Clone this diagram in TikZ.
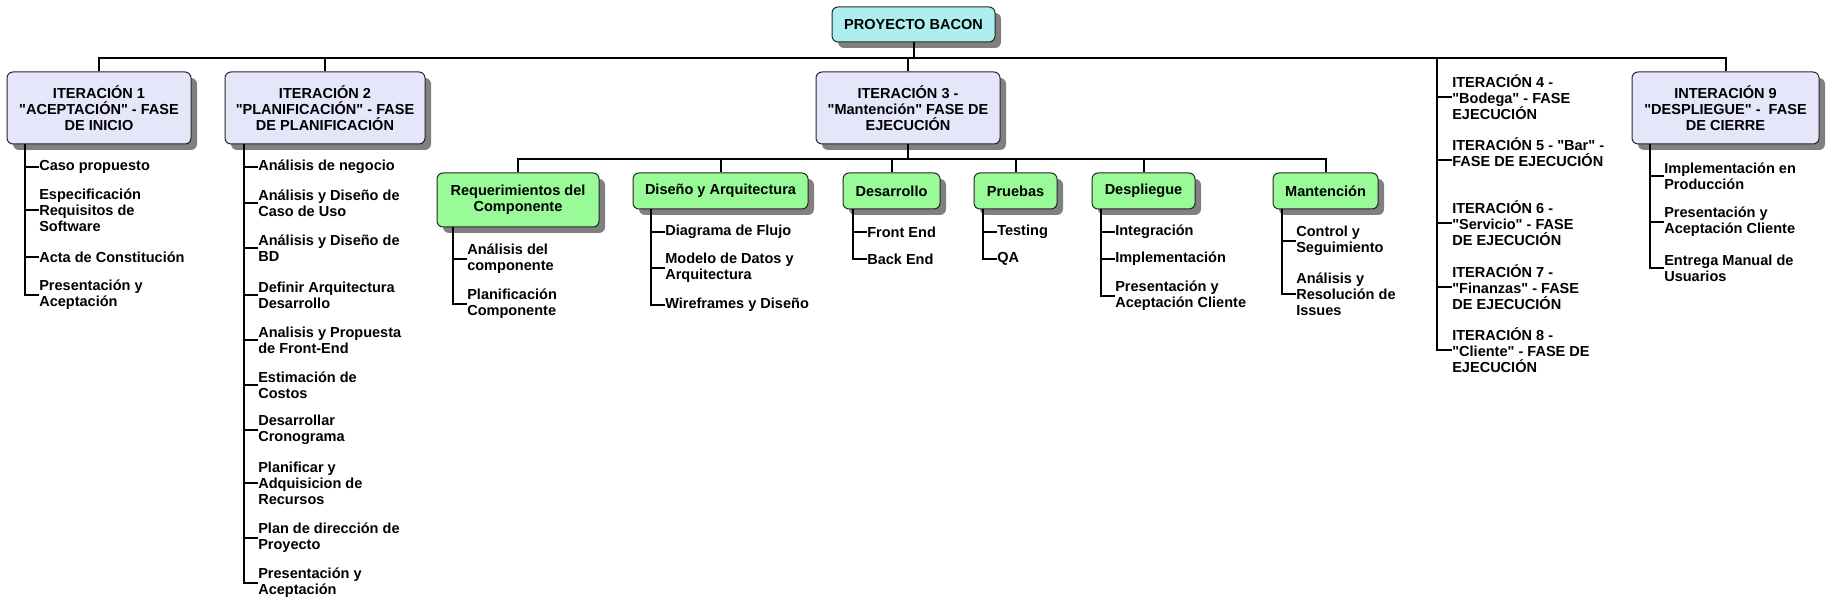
\documentclass[tikz,border=0pt]{standalone}
\usepackage{fontspec}
\setmainfont{Liberation Sans}[Ligatures=TeXOff]
\usepackage{xcolor}
\usepackage{tikz}
\usetikzlibrary{shapes, calc, shadows}

\definecolor{rootcol}{RGB}{175,238,238}
\definecolor{itercol}{RGB}{230,230,250}
\definecolor{compcol}{RGB}{152,251,152}

\begin{document}
\begin{tikzpicture}[
        x=0.75pt, y=-0.75pt,
        every node/.style={font=\fontsize{10.9}{12}\selectfont\bfseries},
        box/.style={rectangle, rounded corners=4.5pt, draw=black!85, line width=0.75pt, align=center, inner sep=0pt,
            general shadow={fill=gray, shadow xshift=4.5pt, shadow yshift=-4.5pt}},
        rootbox/.style={box, fill=rootcol, minimum width=122.25pt, minimum height=26.25pt},
        iter/.style={box, fill=itercol, minimum height=54pt},
        comp/.style={box, fill=compcol, minimum height=27pt},
        leaf/.style={anchor=west, align=left, inner sep=0pt},
        conn/.style={line width=1.5pt}
    ]
        \useasboundingbox (0,0) rectangle (1833,609);

        \node[rootbox] (proyecto) at (913.5,24.5) {PROYECTO BACON};

        % iteraciones
        \node[iter, minimum width=138pt] (it1) at (99,108) {ITERACIÓN 1\\"ACEPTACIÓN" - FASE\\DE INICIO};
        \node[iter, minimum width=150pt] (it2) at (325,108) {ITERACIÓN 2\\"PLANIFICACIÓN" - FASE\\DE PLANIFICACIÓN};
        \node[iter, minimum width=138pt] (it3) at (908,108) {ITERACIÓN 3 -\\"Mantención" FASE DE\\EJECUCIÓN};
        \node[iter, minimum width=140.25pt] (it9) at (1725.5,108) {INTERACIÓN 9\\"DESPLIEGUE" -\ \ FASE\\DE CIERRE};

        % componentes de la iteracion 3
        \node[comp, minimum width=121.5pt, minimum height=40.5pt] (req) at (518,200) {Requerimientos del\\Componente};
        \node[comp, minimum width=131.25pt] (dis) at (720.5,191) {Diseño y Arquitectura};
        \node[comp, minimum width=72.75pt] (des) at (891.5,191) {Desarrollo};
        \node[comp, minimum width=62.25pt] (pru) at (1015.5,191) {Pruebas};
        \node[comp, minimum width=77.25pt] (dpl) at (1143.5,191) {Despliegue};
        \node[comp, minimum width=78.75pt] (man) at (1325.5,191) {Mantención};

        % hojas iteracion 1
        \node[leaf] (a1) at (39,167) {Caso propuesto};
        \node[leaf] (a2) at (39,210) {Especificación\\Requisitos de\\Software};
        \node[leaf] (a3) at (39,257) {Acta de Constitución};
        \node[leaf] (a4) at (39,295) {Presentación y\\Aceptación};

        % hojas iteracion 2
        \node[leaf] (b1) at (258,167) {Análisis de negocio};
        \node[leaf] (b2) at (258,203) {Análisis y Diseño de\\Caso de Uso};
        \node[leaf] (b3) at (258,248) {Análisis y Diseño de\\BD};
        \node[leaf] (b4) at (258,295) {Definir Arquitectura\\Desarrollo};
        \node[leaf] (b5) at (258,340) {Analisis y Propuesta\\de Front-End};
        \node[leaf] (b6) at (258,385) {Estimación de\\Costos};
        \node[leaf] (b7) at (258,430) {Desarrollar\\Cronograma};
        \node[leaf] (b8) at (258,483) {Planificar y\\Adquisicion de\\Recursos};
        \node[leaf] (b9) at (258,538) {Plan de dirección de\\Proyecto};
        \node[leaf] (b10) at (258,583) {Presentación y\\Aceptación};

        % hojas de los componentes
        \node[leaf] (r1) at (467,259) {Análisis del\\componente};
        \node[leaf] (r2) at (467,304) {Planificación\\Componente};
        \node[leaf] (d1) at (665,232) {Diagrama de Flujo};
        \node[leaf] (d2) at (665,268) {Modelo de Datos y\\Arquitectura};
        \node[leaf] (d3) at (665,305) {Wireframes y Diseño};
        \node[leaf] (e1) at (867,232) {Front End};
        \node[leaf] (e2) at (867,259) {Back End};
        \node[leaf] (p1) at (997,232) {Testing};
        \node[leaf] (p2) at (997,259) {QA};
        \node[leaf] (l1) at (1115,232) {Integración};
        \node[leaf] (l2) at (1115,259) {Implementación};
        \node[leaf] (l3) at (1115,296) {Presentación y\\Aceptación Cliente};
        \node[leaf] (m1) at (1296,241) {Control y\\Seguimiento};
        \node[leaf] (m2) at (1296,294) {Análisis y\\Resolución de\\Issues};

        % iteraciones 4 a 8
        \node[leaf] (i4) at (1452,97) {ITERACIÓN 4 -\\"Bodega" - FASE\\EJECUCIÓN};
        \node[leaf] (i5) at (1452,160) {ITERACIÓN 5 - "Bar" -\\FASE DE EJECUCIÓN\\\mbox{}};
        \node[leaf] (i6) at (1452,223) {ITERACIÓN 6 -\\"Servicio" - FASE\\DE EJECUCIÓN};
        \node[leaf] (i7) at (1452,287) {ITERACIÓN 7 -\\"Finanzas" - FASE\\DE EJECUCIÓN};
        \node[leaf] (i8) at (1452,350) {ITERACIÓN 8 -\\"Cliente" - FASE DE\\EJECUCIÓN};

        % hojas iteracion 9
        \node[leaf] (n1) at (1664,176) {Implementación en\\Producción};
        \node[leaf] (n2) at (1664,222) {Presentación y\\Aceptación Cliente};
        \node[leaf] (n3) at (1664,268) {Entrega Manual de\\Usuarios};

        % barras del arbol
        \coordinate (bar) at (0,58);
        \coordinate (bar3) at (0,159);
        \draw[conn] (proyecto.south) -- (proyecto.south |- bar);
        \draw[conn] (it1.north) -- (it1.north |- bar) -| (it9.north);
        \draw[conn] (it2.north) -- (it2.north |- bar);
        \draw[conn] (it3.north) -- (it3.north |- bar);
        \draw[conn] (it3.south) -- (it3.south |- bar3);
        \draw[conn] (req.north) -- (req.north |- bar3) -| (man.north);
        \foreach \n in {dis, des, pru, dpl}
            \draw[conn] (\n.north) -- (\n.north |- bar3);

        % lineas de las hojas
        \coordinate (s1) at (25,0);
        \coordinate (s2) at (244,0);
        \coordinate (sr) at (453,0);
        \coordinate (sd) at (651,0);
        \coordinate (se) at (853,0);
        \coordinate (sp) at (983,0);
        \coordinate (sl) at (1101,0);
        \coordinate (sm) at (1282,0);
        \coordinate (s48) at (1437,58);
        \coordinate (s9) at (1650,0);

        \draw[conn] (it1.south -| s1) |- (a4.west);
        \foreach \l in {a1,a2,a3} \draw[conn] (s1 |- \l.west) -- (\l.west);
        \draw[conn] (it2.south -| s2) |- (b10.west);
        \foreach \l in {b1,b2,b3,b4,b5,b6,b7,b8,b9} \draw[conn] (s2 |- \l.west) -- (\l.west);
        \draw[conn] (req.south -| sr) |- (r2.west);
        \draw[conn] (sr |- r1.west) -- (r1.west);
        \draw[conn] (dis.south -| sd) |- (d3.west);
        \foreach \l in {d1,d2} \draw[conn] (sd |- \l.west) -- (\l.west);
        \draw[conn] (des.south -| se) |- (e2.west);
        \draw[conn] (se |- e1.west) -- (e1.west);
        \draw[conn] (pru.south -| sp) |- (p2.west);
        \draw[conn] (sp |- p1.west) -- (p1.west);
        \draw[conn] (dpl.south -| sl) |- (l3.west);
        \foreach \l in {l1,l2} \draw[conn] (sl |- \l.west) -- (\l.west);
        \draw[conn] (man.south -| sm) |- (m2.west);
        \draw[conn] (sm |- m1.west) -- (m1.west);
        \draw[conn] (s48) |- (i8.west);
        \foreach \l in {i4,i5,i6,i7} \draw[conn] (s48 |- \l.west) -- (\l.west);
        \draw[conn] (it9.south -| s9) |- (n3.west);
        \foreach \l in {n1,n2} \draw[conn] (s9 |- \l.west) -- (\l.west);

    \end{tikzpicture}
\end{document}
